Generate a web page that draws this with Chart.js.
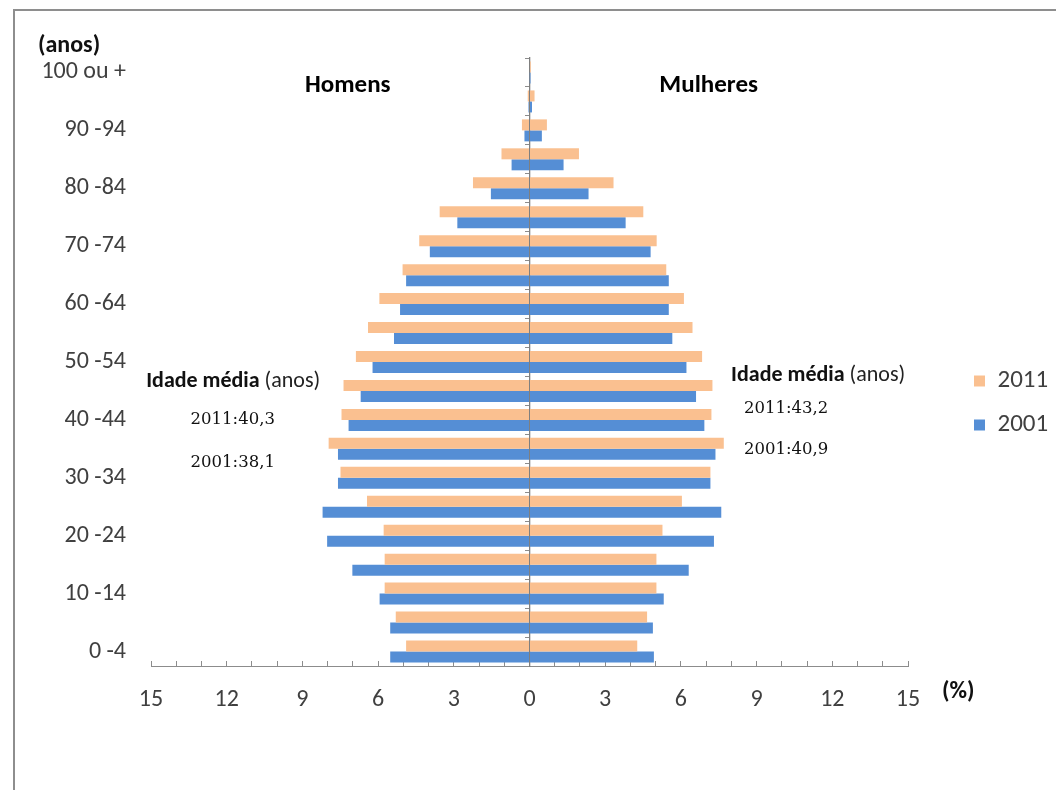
<!DOCTYPE html>
<html>
<head>
<meta charset="utf-8">
<script src="https://cdn.jsdelivr.net/npm/chart.js@4.4.1/dist/chart.umd.min.js"></script>
<style>
html,body{margin:0;padding:0;background:#fff;}
#wrap{position:relative;width:1056px;height:790px;overflow:hidden;background:#fff;}
#frame{position:absolute;left:13px;top:9px;right:-6px;bottom:-6px;border-top:2px solid #8e8e8e;border-left:2px solid #8e8e8e;}
#c{position:absolute;left:0;top:0;}
</style>
</head>
<body>
<div id="wrap"><div id="frame"></div><canvas id="c" width="1056" height="790"></canvas></div>
<script>
// Age groups (bottom to top)
const ageGroups = ['0 -4','5 -9','10 -14','15 -19','20 -24','25 -29','30 -34','35 -39','40 -44','45 -49',
  '50 -54','55 -59','60 -64','65 -69','70 -74','75 -79','80 -84','85 -89','90 -94','95 -99','100 ou +'];

// Percentages
const homens2011   = [4.89,5.30,5.74,5.74,5.78,6.44,7.49,7.96,7.45,7.37,6.88,6.40,5.95,5.03,4.37,3.56,2.24,1.11,0.30,0.07,0.02];
const mulheres2011 = [4.27,4.66,5.03,5.03,5.27,6.04,7.17,7.70,7.21,7.25,6.84,6.46,6.12,5.42,5.04,4.51,3.33,1.96,0.69,0.20,0.05];
const homens2001   = [5.52,5.52,5.94,7.02,8.02,8.20,7.59,7.59,7.17,6.69,6.22,5.37,5.13,4.89,3.95,2.86,1.53,0.71,0.20,0.04,0.01];
const mulheres2001 = [4.93,4.89,5.32,6.31,7.31,7.60,7.17,7.37,6.93,6.60,6.22,5.66,5.52,5.52,4.80,3.81,2.34,1.35,0.49,0.10,0.04];

const seriesYears = ['2011','2001'];
const xTickValues = [-15,-12,-9,-6,-3,0,3,6,9,12,15];

const ORANGE = '#FAC090';
const BLUE = '#558ED5';
const SANS = "Carlito, Lato, 'Open Sans', sans-serif";
const SERIF = "'DejaVu Serif', serif";

const annotations = {
  id: 'annotations',
  afterDraw(chart) {
    const {ctx, chartArea} = chart;
    const x = chart.scales.x, y = chart.scales.y;
    ctx.save();
    ctx.textBaseline = 'middle';
    function txt(s, px, py, font, color, align) {
      ctx.font = font; ctx.fillStyle = color; ctx.textAlign = align || 'left';
      ctx.fillText(s, px, py);
    }
    function mixed(px, py) {
      ctx.textAlign = 'left';
      ctx.font = 'bold 22px ' + SANS; ctx.fillStyle = '#111';
      ctx.fillText('Idade média', px, py);
      const w = ctx.measureText('Idade média').width;
      ctx.font = '22px ' + SANS; ctx.fillStyle = '#222';
      ctx.fillText(' (anos)', px + w, py);
    }
    txt('(anos)', 38, chartArea.top - 12, 'bold 24px ' + SANS, '#111');
    txt('(%)', chartArea.right + 34, 692, 'bold 24px ' + SANS, '#111');
    txt('Homens', x.getPixelForValue(-7.2), y.getPixelForValue(19.53), 'bold 25px ' + SANS, '#000', 'center');
    txt('Mulheres', x.getPixelForValue(7.1), y.getPixelForValue(19.53), 'bold 25px ' + SANS, '#000', 'center');
    mixed(x.getPixelForValue(-15.19), y.getPixelForValue(9.34));
    mixed(x.getPixelForValue(7.99), y.getPixelForValue(9.55));
    txt('2011:40,3', x.getPixelForValue(-11.76), y.getPixelForValue(8.0), '16.5px ' + SERIF, '#111', 'center');
    txt('2001:38,1', x.getPixelForValue(-11.76), y.getPixelForValue(6.51), '16.5px ' + SERIF, '#111', 'center');
    txt('2011:43,2', x.getPixelForValue(10.17), y.getPixelForValue(8.38), '16.5px ' + SERIF, '#111', 'center');
    txt('2001:40,9', x.getPixelForValue(10.17), y.getPixelForValue(6.96), '16.5px ' + SERIF, '#111', 'center');
    ctx.restore();
  }
};

new Chart(document.getElementById('c'), {
  type: 'bar',
  data: {
    labels: ageGroups,
    datasets: [
      {label: seriesYears[0], data: mulheres2011, stack: 's2011', backgroundColor: ORANGE},
      {label: 'Homens ' + seriesYears[0], data: homens2011.map(v => -v), stack: 's2011', backgroundColor: ORANGE},
      {label: seriesYears[1], data: mulheres2001, stack: 's2001', backgroundColor: BLUE},
      {label: 'Homens ' + seriesYears[1], data: homens2001.map(v => -v), stack: 's2001', backgroundColor: BLUE}
    ]
  },
  options: {
    indexAxis: 'y',
    responsive: false,
    animation: false,
    events: [],
    layout: {padding: {top: 58, left: 0, right: 0, bottom: 42}},
    datasets: {bar: {categoryPercentage: 0.76, barPercentage: 1.0, borderWidth: 0}},
    scales: {
      x: {
        type: 'linear', min: -15, max: 15, stacked: true,
        afterFit: s => { s.height = 82; },
        ticks: {
          stepSize: 1, autoSkip: false, maxRotation: 0, minRotation: 0, padding: 25,
          color: '#404040', font: {family: SANS, size: 24},
          callback: v => (xTickValues.includes(v) ? String(Math.abs(v)) : '')
        },
        grid: {display: true, drawOnChartArea: false, drawTicks: true, tickLength: -5, tickColor: '#8c8c8c'},
        border: {display: true, color: '#8c8c8c', width: 1}
      },
      y: {
        type: 'category', position: 'left', reverse: true, offset: true,
        afterFit: s => { s.width = 151; },
        ticks: {
          autoSkip: false, padding: 25, color: '#404040', font: {family: SANS, size: 24},
          callback: function(value, index) { return index % 2 === 0 ? this.getLabelForValue(value) : ''; }
        },
        grid: {display: false, drawTicks: false},
        border: {display: false}
      },
      yZero: {
        type: 'category', axis: 'y', position: {x: 0}, reverse: true, offset: true, z: 1,
        ticks: {display: false},
        grid: {display: true, drawOnChartArea: false, drawTicks: true, tickLength: 4, tickColor: '#8c8c8c', offset: true},
        border: {display: true, color: '#7f7f7f', width: 1.3}
      },
      yRight: {
        type: 'category', axis: 'y', position: 'right', reverse: true,
        afterFit: s => { s.width = 47; },
        ticks: {display: false},
        grid: {display: false, drawTicks: false},
        border: {display: false}
      }
    },
    plugins: {
      legend: {
        display: true, position: 'right', align: 'center', maxWidth: 101,
        labels: {
          boxWidth: 11, boxHeight: 11, padding: 19, color: '#404040',
          font: {family: SANS, size: 25},
          filter: item => !item.text.startsWith('Homens')
        }
      },
      tooltip: {enabled: false},
      title: {display: false}
    }
  },
  plugins: [annotations]
});
</script>
</body>
</html>
